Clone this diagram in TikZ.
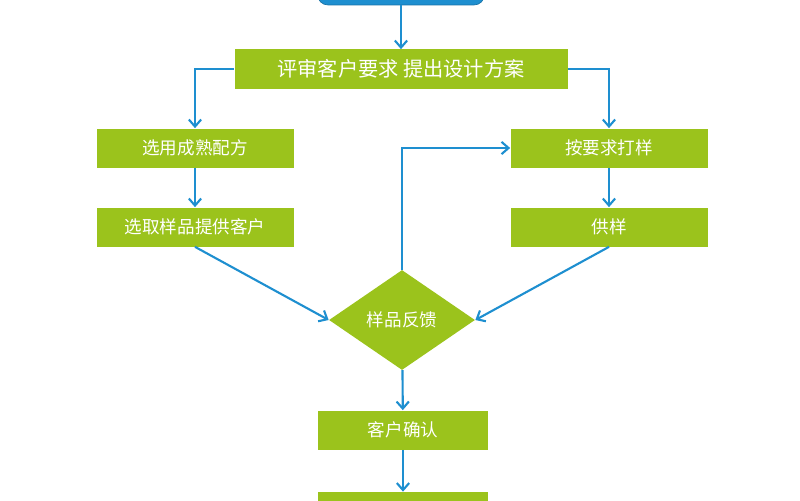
\documentclass[tikz,border=0pt]{standalone}
\usepackage{fontspec}
\setmainfont{Noto Sans CJK SC}
\usetikzlibrary{shapes.geometric,arrows.meta}
\definecolor{leaf}{HTML}{9BC31C}
\definecolor{flow}{HTML}{1E8FD0}
\tikzset{
  stepbox/.style={fill=leaf, text=white, minimum width=197*0.02cm, minimum height=39*0.02cm, font=\fontsize{10}{12}\selectfont},
  flowline/.style={draw=flow, line width=1.2pt, -{Straight Barb[length=4pt,width=7pt]}}
}
\begin{document}
\begin{tikzpicture}[x=0.02cm, y=-0.02cm]
  \useasboundingbox (0,0) rectangle (800,500);
  \begin{scope}
    \clip (0,0) rectangle (800,500);
    \node[fill=flow, draw=flow!80!black, rounded corners=6pt, minimum width=167*0.02cm, minimum height=30*0.02cm] (start) at (401,-10) {};
    \node[fill=leaf, minimum width=170*0.02cm, minimum height=36*0.02cm] (final) at (403,510) {};
  \end{scope}
  \node[stepbox, minimum width=333*0.02cm, font=\fontsize{11.5}{14}\selectfont] (review) at (401,69) {评审客户要求 提出设计方案};
  \node[stepbox] (mature) at (195,148) {选用成熟配方};
  \node[stepbox] (pick) at (195,227) {选取样品提供客户};
  \node[stepbox] (proof) at (609,148) {按要求打样};
  \node[stepbox] (supply) at (609,227) {供样};
  \node[diamond, fill=leaf, text=white, minimum width=146*0.02cm, minimum height=100*0.02cm, inner sep=0pt, font=\fontsize{10}{12}\selectfont] (feedback) at (402,320) {样品反馈};
  \node[stepbox, minimum width=170*0.02cm] (confirm) at (403,430) {客户确认};
  % connectors
  \draw[flowline] (start.south) -- (review.north);
  \draw[flowline] (review.west) -| (mature.north);
  \draw[flowline] (review.east) -| (proof.north);
  \draw[flowline] (mature) -- (pick);
  \draw[flowline] (proof) -- (supply);
  \draw[flowline] (pick.south) -- (feedback.west);
  \draw[flowline] (supply.south) -- (feedback.east);
  \draw[flowline] (feedback.north) |- (proof.west);
  \draw[flowline] (feedback) -- (confirm);
  \draw[flowline] (confirm.south) -- (final.north);
\end{tikzpicture}
\end{document}
